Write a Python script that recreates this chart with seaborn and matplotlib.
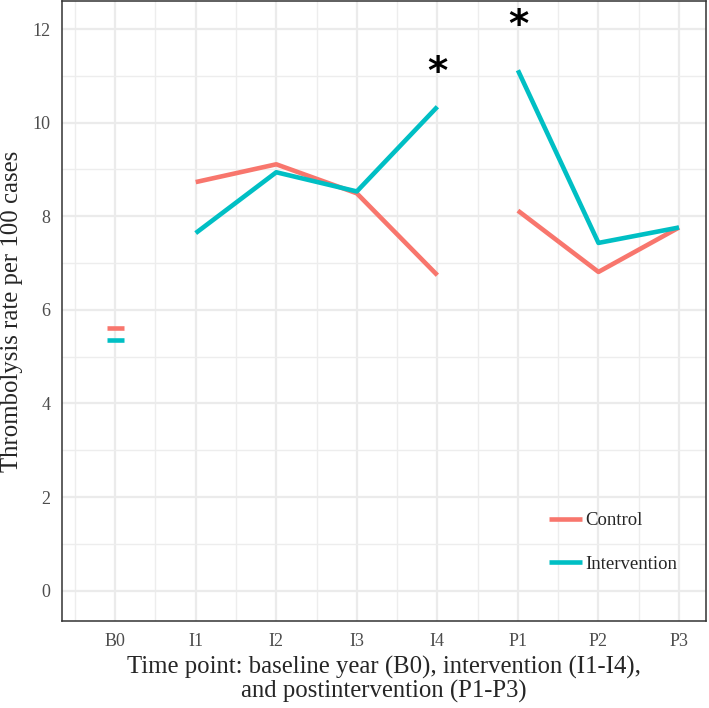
import numpy as np
import pandas as pd
import matplotlib
matplotlib.use("Agg")
import matplotlib.pyplot as plt
import seaborn as sns
from matplotlib.ticker import FixedLocator

# ---- data ----
timepoints = ["B0", "I1", "I2", "I3", "I4", "P1", "P2", "P3"]
phases = ["B", "I", "I", "I", "I", "P", "P", "P"]
control = [5.62, 8.73, 9.11, 8.49, 6.74, 8.12, 6.81, 7.76]
intervention = [5.35, 7.64, 8.94, 8.53, 10.34, 11.12, 7.43, 7.76]
groups = ["Control", "Intervention"]
star_points = ["I4", "P1"]
star_heights = [11.07, 12.07]
yticks = [0, 2, 4, 6, 8, 10, 12]

colors = ["#F8766D", "#00BFC4"]

sns.set_theme(style="white")
plt.rcParams['font.family'] = ['Liberation Serif', 'DejaVu Serif']

rows = []
for grp, vals in zip(groups, [control, intervention]):
    for i, (tp, ph, v) in enumerate(zip(timepoints, phases, vals)):
        rows.append(dict(tp=tp, x=i, phase=ph, group=grp, rate=v))
df = pd.DataFrame(rows)
palette = dict(zip(groups, colors))

W, H = 709, 708
fig = plt.figure(figsize=(W / 100, H / 100), dpi=100)
ax = fig.add_axes([62 / W, 1 - 621 / H, (706 - 62) / W, (621 - 1) / H])

LW = 3.3
line_df = df[df["phase"] != "B"]
sns.lineplot(data=line_df, x="x", y="rate", hue="group", hue_order=groups,
             units="phase", estimator=None, palette=palette, linewidth=LW,
             solid_capstyle="butt", ax=ax, legend=True, zorder=3)

base_df = df[df["phase"] == "B"]
sns.scatterplot(data=base_df, x="x", y="rate", hue="group", hue_order=groups,
                palette=palette, marker="_", s=150, linewidth=LW,
                ax=ax, legend=False, zorder=3)

for tp, h in zip(star_points, star_heights):
    ax.text(timepoints.index(tp), h, "*", ha="center", va="center",
            fontsize=28, fontweight="bold", family="DejaVu Sans", color="black")

ax.set_xlim(-0.66, 7.335)
ax.set_ylim(-0.65, 12.6)
ax.set_xticks(range(len(timepoints)))
ax.set_xticklabels(timepoints)
ax.set_yticks(yticks)
ax.xaxis.set_minor_locator(FixedLocator(np.arange(-0.5, len(timepoints), 1.0)))
ax.yaxis.set_minor_locator(FixedLocator(np.arange(1, 13, 2)))

ax.grid(which="major", color="#EBEBEB", linewidth=1.6)
ax.grid(which="minor", color="#EDEDED", linewidth=1.0)
ax.set_axisbelow(True)

ax.tick_params(which="major", length=4.8, width=1.1, color="#333333",
               labelsize=13, labelcolor="#4D4D4D", pad=3.5)
ax.tick_params(which="minor", length=0)
for sp in ax.spines.values():
    sp.set_visible(True)
    sp.set_color("#333333")
    sp.set_linewidth(1.1)

ax.set_xlabel("Time point: baseline year (B0), intervention (I1-I4),\nand postintervention (P1-P3)",
              fontsize=17.8, labelpad=4.5, linespacing=1.08)
ax.set_ylabel("Thrombolysis rate per 100 cases", fontsize=17.8, labelpad=7)

handles, labels = ax.get_legend_handles_labels()
leg = ax.legend(handles, labels, loc="center left", frameon=False,
                bbox_to_anchor=(549 / W, 1 - 542.5 / H), bbox_transform=fig.transFigure,
                fontsize=13.5, handlelength=1.75, handletextpad=0.2,
                labelspacing=1.42, borderpad=0, borderaxespad=0)
for lh in leg.get_lines():
    lh.set_linewidth(LW)
    lh.set_solid_capstyle("butt")

fig.savefig("out.png", dpi=100)
